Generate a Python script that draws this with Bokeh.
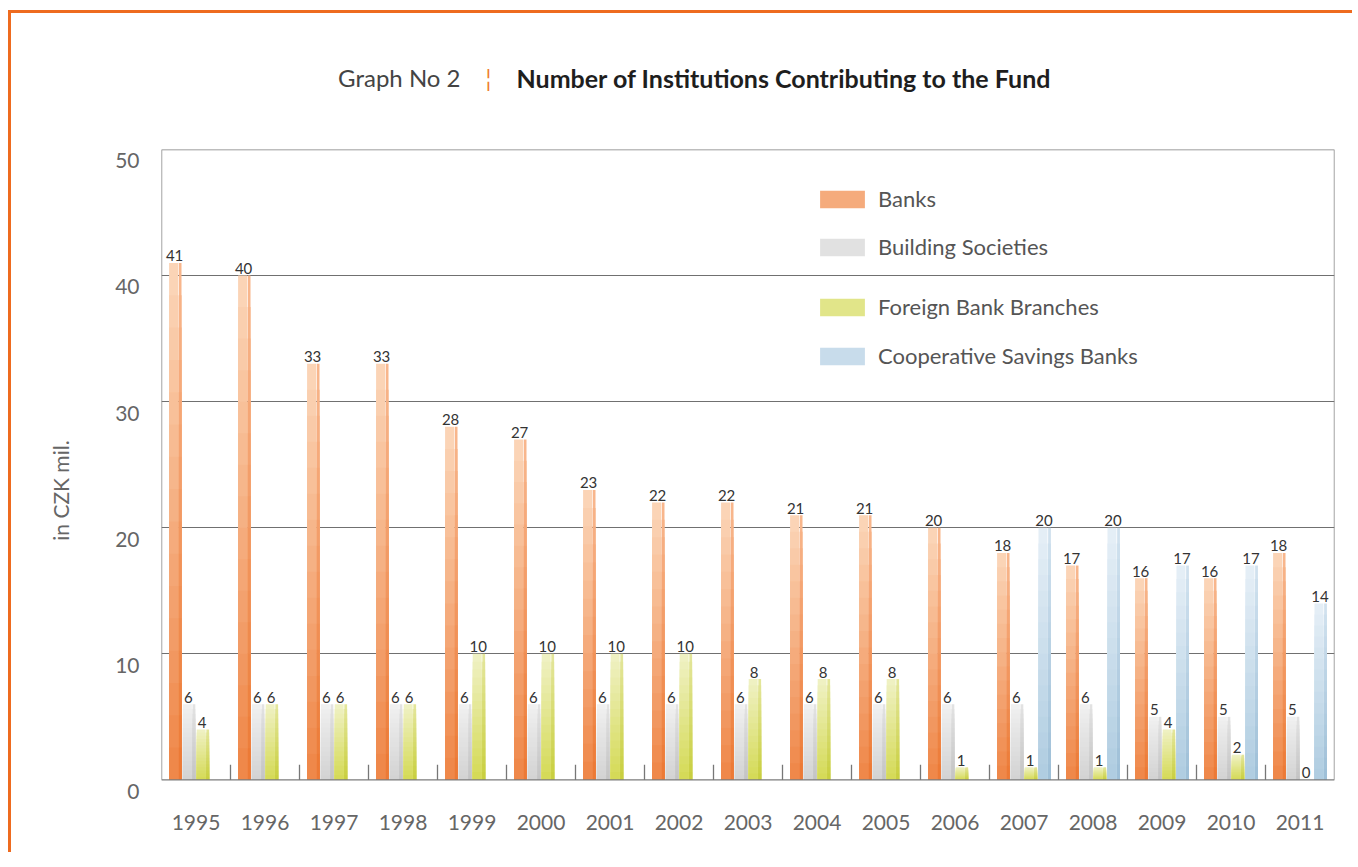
import math
from bokeh.plotting import figure
from bokeh.models import (ColumnDataSource, FactorRange, Range1d, LinearAxis, FixedTicker,
                          BoxAnnotation, Label, Legend, LegendItem)
from bokeh.transform import dodge
from bokeh.layouts import column, row
from bokeh.core.properties import value
from bokeh.embed import file_html
from bokeh.resources import INLINE

# ---------------- data ----------------
years = ["1995", "1996", "1997", "1998", "1999", "2000", "2001", "2002", "2003",
         "2004", "2005", "2006", "2007", "2008", "2009", "2010", "2011"]
banks = [41, 40, 33, 33, 28, 27, 23, 22, 22, 21, 21, 20, 18, 17, 16, 16, 18]
building = [6, 6, 6, 6, 6, 6, 6, 6, 6, 6, 6, 6, 6, 6, 5, 5, 5]
foreign = [4, 6, 6, 6, 10, 10, 10, 10, 8, 8, 8, 1, 1, 1, 4, 2, 0]
coop = [None, None, None, None, None, None, None, None, None, None, None, None,
        20, 20, 17, 17, 14]
series_names = ["Banks", "Building Societies", "Foreign Bank Branches",
                "Cooperative Savings Banks"]
y_ticks = [0, 10, 20, 30, 40, 50]
grid_ticks = [10, 20, 30, 40]
title_light = "Graph No 2"
title_sep = "¦"
title_bold = "Number of Institutions Contributing to the Fund"
y_label = "in CZK mil."

# ---------------- styles ----------------
FONT = "Lato"
face_colors = [("#fbd4b6", "#ef884a"), ("#f0f0f0", "#d3d3d3"),
               ("#eff1c2", "#d5da58"), ("#e4eef6", "#b0cde1")]
side_colors = [("#f8b68c", "#ec7a36"), ("#e2e2e2", "#c4c4c4"),
               ("#e3e69a", "#c9cf40"), ("#d0e1ee", "#9fc0d8")]
offsets = [-0.3, -0.1, 0.1, 0.3]
BAR_W = 0.18
FACE_W = 0.13
SIDE_W = 0.04
N_BANDS = 16
SEP_H = 1.2
LBL_OFF = 0.9

LEFT_W = 95           # strip holding the rotated axis title
TOP_H = 100           # strip holding the chart title
ML, MT, FW, FH, MB, MR = 55, 36, 1173, 643, 60, 18
MAIN_W = ML + FW + MR
MAIN_H = MT + FH + MB
TOTAL_W = LEFT_W + MAIN_W


def hex2rgb(h):
    h = h.lstrip("#")
    return tuple(int(h[i:i + 2], 16) for i in (0, 2, 4))


def mix(c1, c2, t):
    a, b = hex2rgb(c1), hex2rgb(c2)
    return "#%02x%02x%02x" % tuple(round(a[i] + (b[i] - a[i]) * t) for i in range(3))


def blank(w, h):
    f = figure(width=w, height=h, x_range=Range1d(0, w), y_range=Range1d(0, h),
               x_axis_type=None, y_axis_type=None, min_border=0,
               output_backend="svg", toolbar_location=None)
    f.outline_line_color = None
    f.grid.visible = False
    return f


# ---------------- title strip ----------------
top = blank(TOTAL_W, TOP_H)
ty = TOP_H - 64
top.add_layout(Label(x=449, y=ty, text=title_light, text_align="right",
                     text_baseline="middle", text_font=FONT, text_font_size="24px",
                     text_color="#444444"))
top.add_layout(Label(x=477, y=ty, text=title_sep, text_align="center",
                     text_baseline="middle", text_font=FONT, text_font_size="23px",
                     text_color="#ee7d2b"))
top.add_layout(Label(x=505, y=ty, text=title_bold, text_align="left",
                     text_baseline="middle", text_font=FONT, text_font_style="bold",
                     text_font_size="25px", text_color="#1e1e1e"))

# ---------------- left strip ----------------
left = blank(LEFT_W, MAIN_H)
left.add_layout(Label(x=49, y=MAIN_H - 392, text=y_label, angle=math.pi / 2,
                      text_align="center", text_baseline="middle", text_font=FONT,
                      text_font_size="21px", text_color="#666666"))

# ---------------- main chart ----------------
p = figure(x_range=FactorRange(factors=years, range_padding=0),
           y_range=Range1d(-1, 50),
           frame_width=FW, frame_height=FH,
           min_border_left=ML, min_border_right=MR, min_border_top=MT,
           min_border_bottom=MB,
           output_backend="svg", toolbar_location=None)
p.outline_line_color = None

p.yaxis.visible = False
p.extra_y_ranges = {"lbl": Range1d(-1 + LBL_OFF, 50 + LBL_OFF)}
yax = LinearAxis(y_range_name="lbl", ticker=FixedTicker(ticks=y_ticks),
                 axis_line_color=None, major_tick_line_color=None,
                 minor_tick_line_color=None, major_label_standoff=16,
                 major_label_text_font=FONT, major_label_text_font_size="21px",
                 major_label_text_color="#666666")
p.add_layout(yax, "left")

p.xaxis.axis_line_color = None
p.xaxis.major_tick_line_color = None
p.xaxis.minor_tick_line_color = None
p.xaxis.major_label_standoff = 16
p.xaxis.major_label_text_font = FONT
p.xaxis.major_label_text_font_size = "21px"
p.xaxis.major_label_text_color = "#666666"

p.xgrid.visible = False
p.ygrid.ticker = FixedTicker(ticks=grid_ticks)
p.ygrid.grid_line_color = "#707070"
p.ygrid.grid_line_width = 1.2

p.add_layout(BoxAnnotation(bottom=0, top=50, fill_alpha=0, line_color="#7c7c7c",
                           line_alpha=1, line_width=1.4))

sep_src = ColumnDataSource(dict(x=years[:-1]))
p.segment(x0=dodge("x", 0.5, range=p.x_range), y0=0,
          x1=dodge("x", 0.5, range=p.x_range), y1=SEP_H,
          line_color="#777777", line_width=1.3, source=sep_src)

face_renderers = []
all_series = [banks, building, foreign, coop]
for i, vals in enumerate(all_series):
    valid = [(y, v) for y, v in zip(years, vals) if v is not None]
    xs, tops, fcs, scs = [], [], [], []
    for k in range(N_BANDS):
        t = k / (N_BANDS - 1)
        for y, v in valid:
            xs.append(y)
            tops.append(v * (1 - k / N_BANDS))
            fcs.append(mix(face_colors[i][0], face_colors[i][1], t))
            scs.append(mix(side_colors[i][0], side_colors[i][1], t))
    src = ColumnDataSource(dict(x=xs, top=tops, face=fcs, side=scs))
    off = offsets[i]
    fr = p.vbar(x=dodge("x", off - BAR_W / 2 + FACE_W / 2, range=p.x_range), top="top",
                bottom=0, width=FACE_W, fill_color="face", line_color=None, source=src)
    p.vbar(x=dodge("x", off + BAR_W / 2 - SIDE_W / 2, range=p.x_range), top="top",
           bottom=0, width=SIDE_W, fill_color="side", line_color=None, source=src)
    face_renderers.append((fr, (N_BANDS // 2) * len(valid)))

    lsrc = ColumnDataSource(dict(x=[y for y, v in valid], v=[v for y, v in valid],
                                 lab=[str(v) for y, v in valid]))
    p.text(x=dodge("x", off - 0.01, range=p.x_range), y="v", text="lab", source=lsrc,
           text_font=value(FONT), text_font_size="15px", text_color="#333333",
           text_align="center", text_baseline="alphabetic", y_offset=-7)


def make_legend(idx, loc, spacing):
    items = [LegendItem(label=series_names[j], renderers=[face_renderers[j][0]],
                        index=face_renderers[j][1]) for j in idx]
    return Legend(items=items, location=loc, glyph_width=56, glyph_height=22,
                  label_standoff=8, spacing=spacing, padding=10, margin=0,
                  label_height=27, label_text_font=FONT, label_text_font_size="22px",
                  label_text_color="#555555", background_fill_alpha=0,
                  border_line_alpha=0)


p.add_layout(make_legend([0, 1], (643, 522), 21))
p.add_layout(make_legend([2, 3], (643, 413), 22))

layout = column(top, row(left, p),
                styles={"border-left": "3px solid #ee6b1f",
                        "border-top": "3px solid #ee6b1f",
                        "margin-top": "10px", "margin-left": "8px"})

open("out.html", "w").write(file_html(layout, INLINE))
